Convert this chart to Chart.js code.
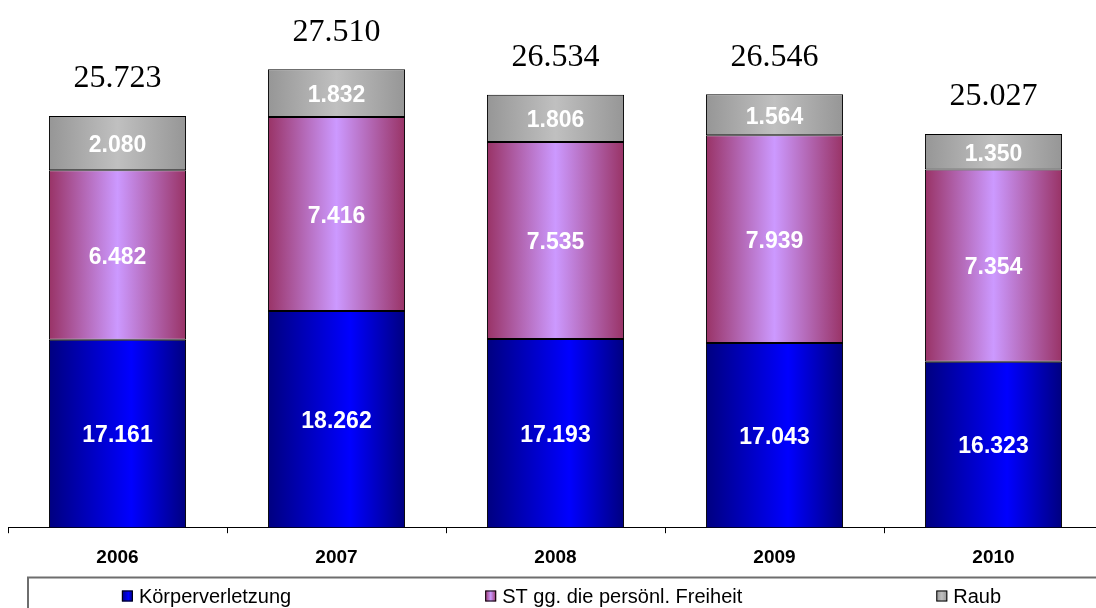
<!DOCTYPE html>
<html>
<head>
<meta charset="utf-8">
<script src="https://cdn.jsdelivr.net/npm/chart.js@4.4.0/dist/chart.umd.min.js"></script>
<style>
  html, body { margin: 0; padding: 0; background: #fff; overflow: hidden; }
  #wrap { width: 1096px; height: 608px; overflow: hidden; position: relative; }
  canvas { position: absolute; left: 0; top: 0; }
</style>
</head>
<body>
<div id="wrap"><canvas id="c" width="1120" height="608"></canvas></div>
<script>
const categories = ['2006', '2007', '2008', '2009', '2010'];
const koerperverletzung = [17161, 18262, 17193, 17043, 16323];
const freiheit = [6482, 7416, 7535, 7939, 7354];
const raub = [2080, 1832, 1806, 1564, 1350];
const seriesNames = ['Körperverletzung', 'ST gg. die persönl. Freiheit', 'Raub'];

const SANS = '"Liberation Sans", Arial, sans-serif';
const SERIF = '"Liberation Serif", "Times New Roman", serif';
const BAR_PCT = 0.626;

const gradStops = [
  [[0, '#000080'], [0.6, '#0000FF'], [1, '#000080']],
  [[0, '#993366'], [0.5, '#CC99FF'], [1, '#993366']],
  [[0, '#969696'], [0.5, '#C0C0C0'], [1, '#969696']]
];

function fmt(v) {
  const t = Math.floor(v / 1000), r = v % 1000;
  return t > 0 ? t + '.' + String(r).padStart(3, '0') : String(r);
}

function gradientFill(seriesIdx) {
  return function (context) {
    const chart = context.chart;
    const xs = chart.scales && chart.scales.x;
    const stops = gradStops[seriesIdx];
    if (!xs || context.dataIndex === undefined || !isFinite(xs.width) || xs.width <= 0) return stops[1][1];
    const c = xs.getPixelForValue(context.dataIndex);
    const half = (xs.width / categories.length) * BAR_PCT / 2;
    const g = chart.ctx.createLinearGradient(c - half, 0, c + half, 0);
    stops.forEach(s => g.addColorStop(s[0], s[1]));
    return g;
  };
}

const labelPlugin = {
  id: 'labels',
  afterDatasetsDraw(chart) {
    const ctx = chart.ctx;
    const area = chart.chartArea;
    ctx.save();
    ctx.textAlign = 'center';
    ctx.textBaseline = 'middle';
    ctx.fillStyle = '#FFFFFF';
    ctx.font = 'bold 23px ' + SANS;
    chart.data.datasets.forEach((ds, di) => {
      const meta = chart.getDatasetMeta(di);
      meta.data.forEach((el, i) => {
        const base = Math.min(el.base, area.bottom);
        const y = (el.y + base) / 2;
        ctx.fillText(fmt(ds.data[i]), el.x, y + 2.5);
      });
    });
    ctx.fillStyle = '#000000';
    ctx.font = '32px ' + SERIF;
    const topMeta = chart.getDatasetMeta(chart.data.datasets.length - 1);
    topMeta.data.forEach((el, i) => {
      const total = chart.data.datasets.reduce((s, ds) => s + ds.data[i], 0);
      ctx.fillText(fmt(total), el.x, el.y - 37);
    });
    ctx.restore();
  },
  afterDraw(chart) {
    const ctx = chart.ctx;
    ctx.save();
    ctx.strokeStyle = '#6E6E6E';
    ctx.lineWidth = 2;
    ctx.beginPath();
    ctx.moveTo(28, 620);
    ctx.lineTo(28, 577.5);
    ctx.lineTo(chart.width + 10, 577.5);
    ctx.stroke();
    ctx.font = '20px ' + SANS;
    ctx.textBaseline = 'middle';
    ctx.textAlign = 'left';
    const gap = 194, box = 11, sp = 6;
    const widths = seriesNames.map(n => box + sp + ctx.measureText(n).width);
    const total = widths.reduce((a, b) => a + b, 0) + gap * (seriesNames.length - 1);
    let x = 561.5 - total / 2;
    const yc = 596;
    seriesNames.forEach((n, i) => {
      const g = ctx.createLinearGradient(x, 0, x + box, 0);
      gradStops[i].forEach(s => g.addColorStop(s[0], s[1]));
      ctx.fillStyle = g;
      ctx.fillRect(x, yc - box / 2, box, box);
      ctx.strokeStyle = '#000';
      ctx.lineWidth = 1;
      ctx.strokeRect(x + 0.5, yc - box / 2 + 0.5, box - 1, box - 1);
      ctx.fillStyle = '#000';
      ctx.fillText(n, x + box + sp, yc + 1);
      x += widths[i] + gap;
    });
    ctx.restore();
  }
};

new Chart(document.getElementById('c'), {
  type: 'bar',
  data: {
    labels: categories,
    datasets: [
      { label: seriesNames[0], data: koerperverletzung, backgroundColor: gradientFill(0) },
      { label: seriesNames[1], data: freiheit, backgroundColor: gradientFill(1) },
      { label: seriesNames[2], data: raub, backgroundColor: gradientFill(2) }
    ]
  },
  options: {
    responsive: false,
    animation: false,
    devicePixelRatio: 1,
    layout: { padding: { left: 8, right: 17, top: 4, bottom: 26 } },
    datasets: {
      bar: {
        borderColor: '#000000',
        borderWidth: 1,
        borderSkipped: false,
        barPercentage: BAR_PCT,
        categoryPercentage: 1
      }
    },
    plugins: {
      legend: { display: false },
      tooltip: { enabled: false }
    },
    scales: {
      x: {
        stacked: true,
        grid: { display: true, drawOnChartArea: false, drawTicks: true, tickLength: 6, color: '#000000', offset: true },
        border: { display: true, color: '#000000', width: 1 },
        ticks: { color: '#000000', font: { family: SANS, size: 19, weight: 'bold' }, padding: 13 }
      },
      y: {
        stacked: true,
        display: false,
        min: 10000,
        max: 30000
      }
    }
  },
  plugins: [labelPlugin]
});
</script>
</body>
</html>
